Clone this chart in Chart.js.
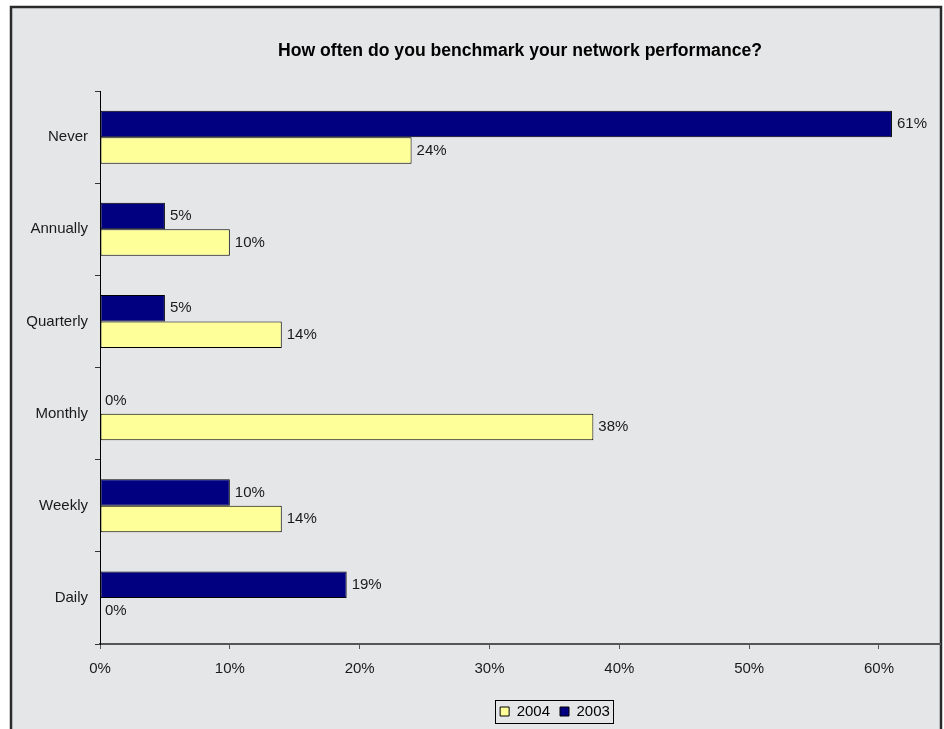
<!DOCTYPE html>
<html>
<head>
<meta charset="utf-8">
<script src="https://cdn.jsdelivr.net/npm/chart.js@4.4.1/dist/chart.umd.min.js"></script>
<style>
  html, body { margin: 0; padding: 0; background: #fff; }
  #wrap { width: 944px; height: 729px; position: relative; }
</style>
</head>
<body>
<div id="wrap"><canvas id="grafico"></canvas></div>
<script>
const categorias = ['Never', 'Annually', 'Quarterly', 'Monthly', 'Weekly', 'Daily'];
const valores2003 = [61, 5, 5, 0, 10, 19];
const valores2004 = [24, 10, 14, 38, 14, 0];
const marcasX = [0, 10, 20, 30, 40, 50, 60];
const titulo = 'How often do you benchmark your network performance?';

Chart.defaults.font.family = '"Liberation Sans", Arial, sans-serif';
Chart.defaults.color = '#1a1a1a';

// fondo gris con el marco oscuro del grafico
const fondo = {
  id: 'fondo',
  beforeDraw(chart) {
    const ctx = chart.ctx;
    ctx.save();
    ctx.fillStyle = '#ffffff';
    ctx.fillRect(0, 0, chart.width, chart.height);
    ctx.fillStyle = '#e5e6e8';
    ctx.fillRect(11, 7, 930, chart.height);
    ctx.strokeStyle = '#2a2a2a';
    ctx.lineWidth = 2.5;
    ctx.strokeRect(11, 7, 930, chart.height + 10);
    ctx.restore();
  }
};

// etiquetas de valor al final de cada barra
const etiquetas = {
  id: 'etiquetas',
  afterDatasetsDraw(chart) {
    const ctx = chart.ctx;
    ctx.save();
    ctx.font = '15px "Liberation Sans", Arial, sans-serif';
    ctx.fillStyle = '#1a1a1a';
    ctx.textAlign = 'left';
    ctx.textBaseline = 'middle';
    chart.data.datasets.forEach((ds, i) => {
      chart.getDatasetMeta(i).data.forEach((bar, j) => {
        ctx.fillText(ds.data[j] + '%', bar.x + 5, bar.y);
      });
    });
    ctx.restore();
  }
};

// la leyenda va un poco a la derecha del centro, con recuadro
const marcoLeyenda = {
  id: 'marcoLeyenda',
  afterLayout(chart) {
    chart.legend.left += 85;
    chart.legend.right += 85;
  },
  afterDraw(chart) {
    const cajas = chart.legend.legendHitBoxes;
    if (!cajas || !cajas.length) return;
    const izq = Math.min(...cajas.map(c => c.left)) - 5;
    const der = Math.max(...cajas.map(c => c.left + c.width)) + 3;
    const arr = Math.min(...cajas.map(c => c.top)) - 4;
    const abj = Math.max(...cajas.map(c => c.top + c.height)) + 4;
    const ctx = chart.ctx;
    ctx.save();
    ctx.strokeStyle = '#000';
    ctx.lineWidth = 1;
    ctx.strokeRect(Math.round(izq) + 0.5, Math.round(arr) + 0.5, Math.round(der - izq), Math.round(abj - arr));
    ctx.restore();
  }
};

new Chart(document.getElementById('grafico'), {
  type: 'bar',
  data: {
    labels: categorias,
    datasets: [
      {
        label: '2003',
        data: valores2003,
        backgroundColor: '#000080',
        borderColor: '#000000',
        borderWidth: 1,
        borderSkipped: false
      },
      {
        label: '2004',
        data: valores2004,
        backgroundColor: '#ffff99',
        borderColor: '#000000',
        borderWidth: 1,
        borderSkipped: false
      }
    ]
  },
  options: {
    indexAxis: 'y',
    responsive: true,
    maintainAspectRatio: false,
    animation: false,
    devicePixelRatio: 1,
    datasets: { bar: { categoryPercentage: 0.575, barPercentage: 1 } },
    layout: { padding: { left: 0, right: 4, top: 0, bottom: 0 } },
    scales: {
      x: {
        min: 0,
        max: 64.7,
        afterBuildTicks: scale => {
          scale.ticks = marcasX.map(v => ({ value: v }));
        },
        afterFit: scale => { scale.height += 5; },
        ticks: {
          callback: v => v + '%',
          font: { size: 15 },
          color: '#1a1a1a',
          padding: 11,
          maxRotation: 0
        },
        grid: { drawOnChartArea: false, tickLength: 5, color: '#555' },
        border: { color: '#555', width: 2 }
      },
      y: {
        afterFit: scale => { scale.width = 100; },
        ticks: { font: { size: 15 }, color: '#1a1a1a', padding: 7 },
        grid: { drawOnChartArea: false, tickLength: 5, color: '#333', offset: true },
        border: { color: '#000', width: 1 }
      }
    },
    plugins: {
      title: {
        display: true,
        fullSize: false,
        text: titulo,
        color: '#000',
        font: { size: 17.6, weight: 'bold' },
        padding: { top: 41, bottom: 29 }
      },
      legend: {
        position: 'bottom',
        reverse: true,
        labels: {
          boxWidth: 9,
          boxHeight: 9,
          padding: 10,
          font: { size: 15 },
          color: '#000'
        }
      },
      tooltip: { enabled: false }
    }
  },
  plugins: [fondo, etiquetas, marcoLeyenda]
});
</script>
</body>
</html>
